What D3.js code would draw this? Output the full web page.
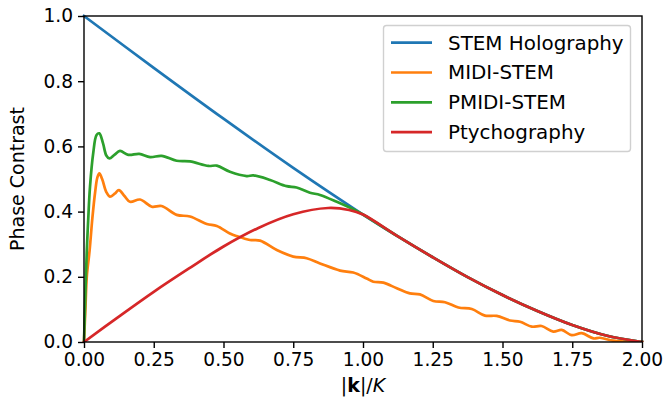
<!DOCTYPE html>
<html>
<head>
  <style>
    body { margin: 0; background: #fff; }
    text { font-family: "DejaVu Sans", sans-serif; fill: #000; }
    .axis path, .axis line { stroke: #000; stroke-width: 1.4px; }
    .axis text { font-size: 18.6px; }
  </style>
</head>
<body>
  <svg id="chart" width="665" height="407"></svg>

  <script src="https://d3js.org/d3.v7.min.js"></script>
  <script>
    // data
    const seriesNames = ["STEM Holography", "MIDI-STEM", "PMIDI-STEM", "Ptychography"];
    const colors = ["#1f77b4", "#ff7f0e", "#2ca02c", "#d62728"];

    const holoK = [0, 0.25, 0.5, 0.75, 1.0, 1.125, 1.25, 1.375, 1.5, 1.625, 1.75, 1.875, 2.0];
    const holoV = [1.0, 0.841, 0.685, 0.534, 0.391, 0.324, 0.26, 0.199, 0.144, 0.095, 0.052, 0.019, 0];

    const midiK = [0, 0.005, 0.01, 0.02, 0.03, 0.04, 0.048, 0.055, 0.065, 0.08, 0.093, 0.11, 0.125, 0.145, 0.165,
      0.201, 0.243, 0.278, 0.332, 0.38, 0.44, 0.476, 0.523, 0.547, 0.595, 0.631, 0.691, 0.75, 0.798, 0.846,
      0.918, 0.965, 1.013, 1.037, 1.073, 1.121, 1.168, 1.204, 1.252, 1.294, 1.342, 1.39, 1.437, 1.479,
      1.527, 1.563, 1.605, 1.64, 1.682, 1.712, 1.748, 1.784, 1.826, 1.849, 1.897, 1.95, 2.0];
    const midiV = [0, 0.1, 0.2, 0.28, 0.38, 0.46, 0.505, 0.517, 0.5, 0.46, 0.446, 0.455, 0.466, 0.448, 0.43,
      0.437, 0.415, 0.417, 0.39, 0.385, 0.362, 0.356, 0.333, 0.325, 0.313, 0.311, 0.282, 0.262, 0.257, 0.241,
      0.219, 0.213, 0.195, 0.185, 0.182, 0.165, 0.149, 0.146, 0.126, 0.122, 0.106, 0.101, 0.081, 0.08,
      0.066, 0.062, 0.047, 0.049, 0.032, 0.037, 0.021, 0.027, 0.011, 0.013, 0.004, 0.001, 0];

    const pmidiK = [0, 0.005, 0.01, 0.015, 0.0215, 0.033, 0.045, 0.055, 0.068, 0.08, 0.091, 0.11, 0.129, 0.159,
      0.198, 0.237, 0.278, 0.332, 0.38, 0.446, 0.476, 0.523, 0.583, 0.607, 0.667, 0.726, 0.762, 0.81,
      0.846, 0.906, 0.977, 1.0, 1.125, 1.25, 1.375, 1.5, 1.625, 1.75, 1.875, 2.0];
    const pmidiV = [0, 0.15, 0.28, 0.374, 0.476, 0.579, 0.635, 0.64, 0.61, 0.572, 0.563, 0.575, 0.586, 0.574,
      0.577, 0.567, 0.571, 0.556, 0.554, 0.54, 0.541, 0.522, 0.509, 0.511, 0.497, 0.478, 0.474, 0.458,
      0.451, 0.43, 0.402, 0.391, 0.324, 0.26, 0.199, 0.144, 0.095, 0.052, 0.019, 0];

    const ptychoK = [0, 0.125, 0.25, 0.375, 0.5, 0.625, 0.75, 0.875, 0.95, 1.0, 1.125, 1.25, 1.375, 1.5, 1.625, 1.75, 1.875, 2.0];
    const ptychoV = [0, 0.078, 0.154, 0.225, 0.293, 0.35, 0.392, 0.411, 0.405, 0.391, 0.324, 0.26, 0.199, 0.144, 0.095, 0.052, 0.019, 0];

    const xTicks = [0, 0.25, 0.5, 0.75, 1.0, 1.25, 1.5, 1.75, 2.0];
    const yTicks = [0, 0.2, 0.4, 0.6, 0.8, 1.0];

    const series = [
      { k: holoK, v: holoV },
      { k: midiK, v: midiV },
      { k: pmidiK, v: pmidiV },
      { k: ptychoK, v: ptychoV }
    ];

    const margin = { top: 16, right: 23, bottom: 65, left: 84 };
    const width = 665, height = 407;
    const w = width - margin.left - margin.right;
    const h = height - margin.top - margin.bottom;

    const svg = d3.select("#chart");
    const chart = svg.append("g")
      .attr("transform", `translate(${margin.left},${margin.top})`);

    const x = d3.scaleLinear().domain([0, 2]).range([0, w]);
    const y = d3.scaleLinear().domain([0, 1]).range([h, 0]);

    chart.append("defs").append("clipPath").attr("id", "clip")
      .append("rect").attr("x", -2).attr("y", -2).attr("width", w + 4).attr("height", h + 2);

    const line = d3.line().curve(d3.curveCatmullRom.alpha(0.5));

    const lines = chart.append("g").attr("clip-path", "url(#clip)");
    series.forEach((s, i) => {
      lines.append("path")
        .attr("d", line(s.k.map((k, j) => [x(k), y(s.v[j])])))
        .attr("fill", "none")
        .attr("stroke", colors[i])
        .attr("stroke-width", 2.7)
        .attr("stroke-linejoin", "round")
        .attr("stroke-linecap", "square");
    });

    chart.append("g")
      .attr("class", "axis")
      .attr("transform", `translate(0,${h})`)
      .call(d3.axisBottom(x).tickValues(xTicks).tickFormat(d3.format(".2f")).tickSizeOuter(0).tickSize(6).tickPadding(5));

    chart.append("g")
      .attr("class", "axis")
      .call(d3.axisLeft(y).tickValues(yTicks).tickFormat(d3.format(".1f")).tickSizeOuter(0).tickSize(6).tickPadding(5));

    // spines
    chart.selectAll(".axis .domain").remove();
    chart.append("rect").attr("x", 0).attr("y", 0).attr("width", w).attr("height", h)
      .attr("fill", "none").attr("stroke", "#000").attr("stroke-width", 1.4);

    // axis labels
    const xLabel = svg.append("text")
      .attr("x", margin.left + w / 2).attr("y", 392)
      .attr("text-anchor", "middle").style("font-size", "19px");
    xLabel.append("tspan").text("|");
    xLabel.append("tspan").attr("font-weight", "bold").text("k");
    xLabel.append("tspan").text("|/");
    xLabel.append("tspan").attr("font-style", "italic").text("K");

    svg.append("text")
      .attr("transform", `translate(24,${margin.top + h / 2}) rotate(-90)`)
      .attr("text-anchor", "middle").style("font-size", "19px")
      .text("Phase Contrast");

    // legend
    const legend = svg.append("g");
    legend.append("rect")
      .attr("x", 383.5).attr("y", 25.5).attr("width", 247).attr("height", 126)
      .attr("rx", 3).attr("fill", "#fff").attr("fill-opacity", 0.8)
      .attr("stroke", "#d0d0d0").attr("stroke-width", 1.4);
    seriesNames.forEach((name, i) => {
      const yy = 42.7 + i * 29.8;
      legend.append("line")
        .attr("x1", 391).attr("x2", 432).attr("y1", yy).attr("y2", yy)
        .attr("stroke", colors[i]).attr("stroke-width", 2.7);
      legend.append("text")
        .attr("x", 448).attr("y", yy).attr("dy", "0.35em")
        .style("font-size", "19.9px").text(name);
    });
  </script>
</body>
</html>
